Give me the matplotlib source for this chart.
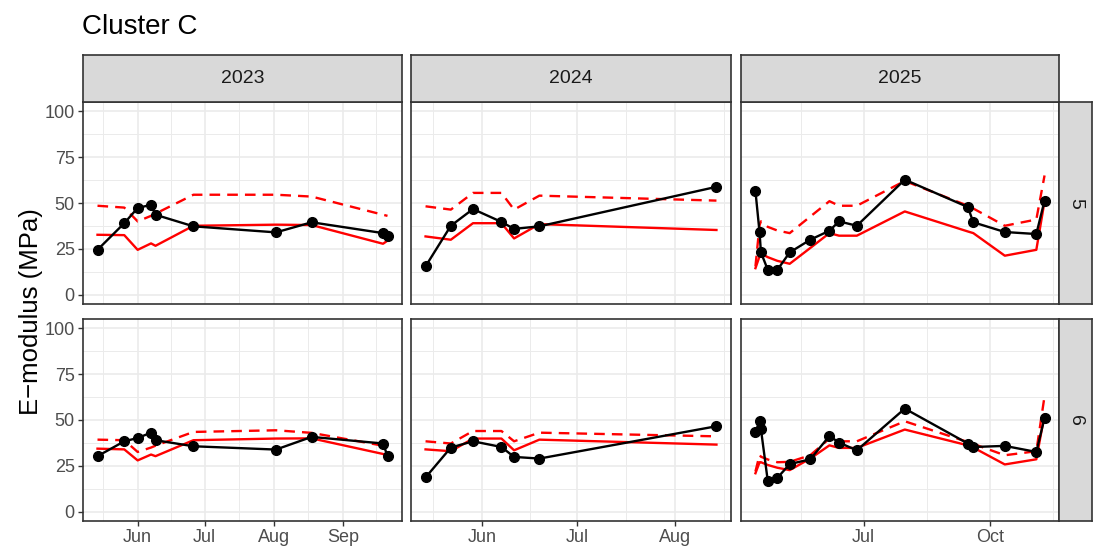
import matplotlib
matplotlib.use("Agg")
import matplotlib.pyplot as plt
import matplotlib.dates as mdates
import matplotlib.ticker as mticker
import numpy as np
import pandas as pd

plt.rcParams['font.family'] = ['Liberation Sans', 'DejaVu Sans']

#%% data
years = [2023, 2024, 2025]
depths = ['5', '6']

dates_2023 = ['2023-05-14', '2023-05-26', '2023-06-01', '2023-06-07', '2023-06-09',
              '2023-06-26', '2023-08-02', '2023-08-18', '2023-09-19', '2023-09-21']
obs5_2023 = [24.5, 39, 47.3, 49, 43.6, 37.3, 34, 39.5, 33.6, 32]
sim5_2023 = [32.7, 32.5, 24.5, 28, 26.7, 37.6, 38.2, 38, 27.8, 29.5]
upr5_2023 = [48.5, 47.5, 40, 43, 44.2, 54.5, 54.5, 53.5, 43.6, 43]
obs6_2023 = [30.3, 38.4, 40.2, 43.1, 39, 35.7, 33.9, 40.8, 37.2, 30.4]
sim6_2023 = [34.4, 34, 28, 31.2, 30.3, 39, 39.9, 40, 31.5, 30]
upr6_2023 = [39.3, 39, 32.6, 35, 36, 43.5, 44.4, 43, 36, 35.5]

dates_2024 = ['2024-05-14', '2024-05-22', '2024-05-29', '2024-06-07', '2024-06-11',
              '2024-06-19', '2024-08-14']
obs5_2024 = [15.5, 37.6, 46.7, 39.7, 35.9, 37.3, 58.8]
sim5_2024 = [31.8, 30, 39, 39, 30.7, 38.5, 35.3]
upr5_2024 = [48.2, 46.4, 55.5, 55.5, 46.4, 54, 51.3]
obs6_2024 = [18.7, 35, 38.4, 35.3, 29.9, 29, 46.6]
sim6_2024 = [34, 33, 39.9, 39.9, 33.5, 39.3, 36.6]
upr6_2024 = [38.4, 37.2, 44, 44, 38.4, 43.1, 41.1]

dates_2025 = ['2025-04-13', '2025-04-16', '2025-04-17', '2025-04-22', '2025-04-29',
              '2025-05-08', '2025-05-23', '2025-06-06', '2025-06-13', '2025-06-26',
              '2025-07-31', '2025-09-15', '2025-09-19', '2025-10-12', '2025-11-04',
              '2025-11-10']
obs5_2025 = [56.4, 34, 23.1, 13.6, 13.6, 23.1, 30, 34.9, 40, 37.6, 62.7, 47.8, 39.5, 34.2, 33.1, 51.3]
sim5_2025 = [14.5, 21, 22.5, 20.5, 18.5, 16.9, 25.5, 33.6, 32.2, 32.2, 45.4, 34.5, 33.6, 21.3, 24.5, 50.9]
upr5_2025 = [15.5, 38, 40, 37, 35, 33.6, 42.6, 51, 48.5, 48.5, 62, 48.5, 47, 37.6, 41, 65]
obs6_2025 = [43.5, 49.3, 45, 16.8, 18.5, 26, 28.6, 41.3, 37.7, 33.5, 56.2, 37.2, 35.3, 35.9, 32.6, 51.1]
sim6_2025 = [21, 27, 27, 25.5, 24, 22.7, 29, 36.2, 34.8, 34.8, 44.8, 36.2, 35, 25.8, 28.6, 53]
upr6_2025 = [22, 31, 30, 28.5, 27, 27.2, 30.8, 39.9, 38.4, 38.4, 49.3, 38, 37, 30.8, 33, 63]

# month break spacing per column (1 = monthly, 3 = quarterly)
month_step = [1, 1, 3]

panels = {
    (0, 0): (dates_2023, obs5_2023, sim5_2023, upr5_2023),
    (1, 0): (dates_2023, obs6_2023, sim6_2023, upr6_2023),
    (0, 1): (dates_2024, obs5_2024, sim5_2024, upr5_2024),
    (1, 1): (dates_2024, obs6_2024, sim6_2024, upr6_2024),
    (0, 2): (dates_2025, obs5_2025, sim5_2025, upr5_2025),
    (1, 2): (dates_2025, obs6_2025, sim6_2025, upr6_2025),
}

#%% layout (pixels of the 1094x555 canvas)
W, H = 1094, 555
cols_px = [(83, 402), (411, 731), (741, 1059)]
rows_px = [(102, 304), (319, 521)]
strip_top = (55, 102)
strip_right = (1059, 1092)

def box(x0, y0, x1, y1):
    return [x0 / W, 1 - y1 / H, (x1 - x0) / W, (y1 - y0) / H]

border = '#333333'
grid = '#EBEBEB'

fig = plt.figure(figsize=(W / 100, H / 100), dpi=100)

def strip(x0, y0, x1, y1, label, rot=0):
    s = fig.add_axes(box(x0, y0, x1, y1))
    s.set_facecolor('#D9D9D9')
    s.set_xticks([]); s.set_yticks([])
    for sp in s.spines.values():
        sp.set_color(border); sp.set_linewidth(1.2)
    s.text(0.5, 0.5, label, ha='center', va='center', rotation=rot,
           fontsize=14, color='#1A1A1A', transform=s.transAxes)

for (r, c), (d, obs, sim, upr) in panels.items():
    x0, x1 = cols_px[c]
    y0, y1 = rows_px[r]
    ax = fig.add_axes(box(x0, y0, x1, y1))
    t = pd.to_datetime(d)
    ax.plot(t, upr, color='red', lw=1.7, dashes=(4.5, 3), zorder=3)
    ax.plot(t, sim, color='red', lw=1.7, zorder=3)
    ax.plot(t, obs, color='black', lw=1.7, marker='o', ms=7, zorder=4)

    # free x scale per column, 5% expansion like ggplot
    tn = mdates.date2num(t)
    span = tn.max() - tn.min()
    ax.set_xlim(tn.min() - 0.05 * span, tn.max() + 0.05 * span)
    yr = years[c]
    majors = pd.date_range(f'{yr - 1}-10-01', f'{yr + 1}-04-01', freq=f'{month_step[c]}MS')
    if month_step[c] == 3:
        majors = majors[majors.month.isin([1, 4, 7, 10])]
    mnum = mdates.date2num(majors)
    ax.xaxis.set_major_locator(mticker.FixedLocator(mnum))
    ax.xaxis.set_minor_locator(mticker.FixedLocator((mnum[:-1] + mnum[1:]) / 2))
    ax.xaxis.set_major_formatter(mdates.DateFormatter('%b'))

    ax.set_ylim(-5, 105)
    ax.set_yticks([0, 25, 50, 75, 100])
    ax.set_yticks([12.5, 37.5, 62.5, 87.5], minor=True)

    ax.grid(which='major', color=grid, lw=1.2, zorder=0)
    ax.grid(which='minor', color=grid, lw=0.7, zorder=0)
    ax.set_axisbelow(True)
    for sp in ax.spines.values():
        sp.set_color(border); sp.set_linewidth(1.2)
    ax.tick_params(which='major', length=3.5, width=1, color=border,
                   labelsize=13, labelcolor='#4D4D4D', pad=2.5)
    ax.tick_params(which='minor', length=0)
    if c > 0:
        ax.tick_params(left=False, labelleft=False)
    if r == 0:
        ax.tick_params(bottom=False, labelbottom=False)

for c, yr in enumerate(years):
    strip(cols_px[c][0], strip_top[0], cols_px[c][1], strip_top[1], str(yr))
for r, dp in enumerate(depths):
    strip(strip_right[0], rows_px[r][0], strip_right[1], rows_px[r][1], dp, rot=-90)

fig.text(82 / W, 1 - 34 / H, 'Cluster C', fontsize=20, ha='left', va='baseline')
fig.text(31 / W, 1 - 311.5 / H, 'E\u2212modulus (MPa)', fontsize=18.5, rotation=90,
         ha='center', va='center')

fig.savefig('out.png', dpi=100)
